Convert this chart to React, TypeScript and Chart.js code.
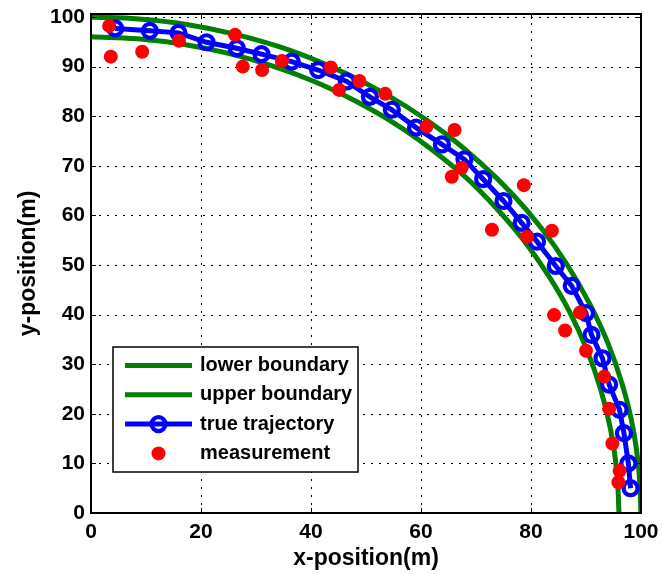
import React, { useEffect, useRef } from "react";
import { Chart, registerables } from "chart.js";

Chart.register(...registerables);

// ---- axis ticks ----
const X_TICKS = [0, 20, 40, 60, 80, 100];
const Y_TICKS = [0, 10, 20, 30, 40, 50, 60, 70, 80, 90, 100];
const X_MIN = 0;
const X_MAX = 100;
const Y_MIN = 0;
const Y_MAX = 100.6;

// ---- lower boundary (r ≈ 96) ----
const LOWER_X = [0, 8.4, 16.7, 24.8, 32.8, 40.6, 48.0, 55.1, 61.7, 67.9, 73.5, 78.6, 83.1, 87.0, 90.2, 92.7, 94.5, 95.6, 96.0];
const LOWER_Y = [96.0, 95.6, 94.5, 92.7, 90.2, 87.0, 83.1, 78.6, 73.5, 67.9, 61.7, 55.1, 48.0, 40.6, 32.8, 24.8, 16.7, 8.4, 0];

// ---- upper boundary (r ≈ 100) ----
const UPPER_X = [0, 8.7, 17.4, 25.9, 34.2, 42.3, 50.0, 57.4, 64.3, 70.7, 76.6, 81.9, 86.6, 90.6, 94.0, 96.6, 98.5, 99.6, 100.0];
const UPPER_Y = [100.0, 99.6, 98.5, 96.6, 94.0, 90.6, 86.6, 81.9, 76.6, 70.7, 64.3, 57.4, 50.0, 42.3, 34.2, 25.9, 17.4, 8.7, 0];

// ---- true trajectory ----
const TRUE_X = [4.4, 10.7, 15.9, 21.0, 26.5, 31.0, 36.5, 41.3, 46.5, 50.7, 54.7, 59.1, 63.8, 67.9, 71.3, 75.0, 78.3, 81.1, 84.5, 87.4, 90.0, 91.0, 93.0, 94.2, 96.1, 96.9, 97.7, 98.1];
const TRUE_Y = [97.7, 97.2, 96.8, 94.9, 93.7, 92.5, 91.0, 89.3, 87.0, 83.9, 81.3, 77.7, 74.3, 71.3, 67.3, 62.9, 58.5, 54.7, 49.8, 45.8, 40.3, 35.9, 31.2, 25.9, 20.8, 16.1, 10.0, 5.0];

// ---- measurements ----
const MEAS_X = [3.3, 3.6, 9.3, 16.0, 26.2, 27.6, 31.1, 34.7, 43.6, 45.1, 48.8, 53.5, 61.0, 66.1, 67.4, 65.6, 78.7, 72.9, 79.3, 83.8, 84.2, 88.9, 86.2, 90.0, 93.3, 94.2, 94.8, 96.1, 95.9];
const MEAS_Y = [98.2, 92.0, 93.0, 95.2, 96.4, 90.0, 89.3, 91.1, 89.8, 85.3, 87.1, 84.5, 77.9, 77.2, 69.6, 67.8, 66.1, 57.1, 55.7, 56.9, 39.9, 40.4, 36.8, 32.7, 27.5, 21.0, 14.0, 8.5, 6.2];

const SERIES_LABELS = ["lower boundary", "upper boundary", "true trajectory", "measurement"];

const FONT_FAMILY = "'Liberation Sans', Arial, Helvetica, sans-serif";
const GREEN = "#008000";
const BLUE = "#0000ff";
const RED = "#ff0000";

const pts = (xs: number[], ys: number[]) => xs.map((x, i) => ({ x, y: ys[i] }));

const framePlugin = {
  id: "matlabFrame",
  beforeDatasetsDraw(chart: any) {
    const { ctx, chartArea, scales } = chart;
    const { left, right, top, bottom } = chartArea;
    ctx.save();
    ctx.strokeStyle = "#000";
    ctx.lineWidth = 1;
    ctx.setLineDash([2, 6]);
    X_TICKS.forEach((v) => {
      if (v <= X_MIN || v >= X_MAX) return;
      const px = Math.round(scales.x.getPixelForValue(v)) + 0.5;
      ctx.beginPath();
      ctx.moveTo(px, bottom);
      ctx.lineTo(px, top);
      ctx.stroke();
    });
    Y_TICKS.forEach((v) => {
      if (v <= Y_MIN || v >= Y_MAX) return;
      const py = Math.round(scales.y.getPixelForValue(v)) + 0.5;
      ctx.beginPath();
      ctx.moveTo(left, py);
      ctx.lineTo(right, py);
      ctx.stroke();
    });
    ctx.restore();
  },
  afterDatasetsDraw(chart: any) {
    const { ctx, chartArea, scales } = chart;
    const { left, right, top, bottom } = chartArea;
    ctx.save();
    ctx.strokeStyle = "#000";
    ctx.setLineDash([]);
    ctx.lineWidth = 1;
    const tl = 5;
    X_TICKS.forEach((v) => {
      const px = Math.round(scales.x.getPixelForValue(v)) + 0.5;
      ctx.beginPath();
      ctx.moveTo(px, bottom);
      ctx.lineTo(px, bottom - tl);
      ctx.moveTo(px, top);
      ctx.lineTo(px, top + tl);
      ctx.stroke();
    });
    Y_TICKS.forEach((v) => {
      const py = Math.round(scales.y.getPixelForValue(v)) + 0.5;
      ctx.beginPath();
      ctx.moveTo(left, py);
      ctx.lineTo(left + tl, py);
      ctx.moveTo(right, py);
      ctx.lineTo(right - tl, py);
      ctx.stroke();
    });
    ctx.lineWidth = 2;
    ctx.strokeRect(left, top, right - left, bottom - top);
    ctx.restore();
  },
  afterDraw(chart: any) {
    const { ctx, chartArea } = chart;
    const L = chartArea.left + 22;
    const T = chartArea.top + 333;
    const W = 245;
    const H = 125;
    ctx.save();
    ctx.setLineDash([]);
    ctx.fillStyle = "#fff";
    ctx.fillRect(L, T, W, H);
    ctx.lineWidth = 1.5;
    ctx.strokeStyle = "#000";
    ctx.strokeRect(L, T, W, H);
    const datasets = chart.data.datasets;
    ctx.font = `bold 20px ${FONT_FAMILY}`;
    ctx.textBaseline = "middle";
    ctx.textAlign = "left";
    SERIES_LABELS.forEach((label, i) => {
      const ds = datasets.find((d: any) => d.label === label);
      const y = T + 18.5 + i * 29.3;
      const x0 = L + 12;
      const x1 = L + 79;
      const cx = (x0 + x1) / 2;
      if (ds.showLine !== false) {
        ctx.strokeStyle = ds.borderColor;
        ctx.lineWidth = ds.borderWidth;
        ctx.beginPath();
        ctx.moveTo(x0, y);
        ctx.lineTo(x1, y);
        ctx.stroke();
      }
      if (ds.pointRadius > 0) {
        ctx.beginPath();
        ctx.arc(cx, y, ds.pointRadius, 0, Math.PI * 2);
        if (ds.pointBorderWidth > 0) {
          ctx.strokeStyle = ds.pointBorderColor;
          ctx.lineWidth = ds.pointBorderWidth;
          ctx.stroke();
        } else {
          ctx.fillStyle = ds.pointBackgroundColor;
          ctx.fill();
        }
      }
      ctx.fillStyle = "#000";
      ctx.fillText(label, L + 87, y);
    });
    ctx.restore();
  },
};

export default function App() {
  const canvasRef = useRef<HTMLCanvasElement | null>(null);

  useEffect(() => {
    if (!canvasRef.current) return;
    const tickFont = { family: FONT_FAMILY, size: 21, weight: "bold" as const };
    const titleFont = { family: FONT_FAMILY, size: 23, weight: "bold" as const };
    const chart = new Chart(canvasRef.current, {
      type: "scatter",
      data: {
        datasets: [
          {
            label: SERIES_LABELS[0],
            data: pts(LOWER_X, LOWER_Y),
            showLine: true,
            borderColor: GREEN,
            backgroundColor: GREEN,
            borderWidth: 5,
            pointRadius: 0,
            pointBorderWidth: 0,
            tension: 0.4,
            clip: 0,
            order: 3,
          },
          {
            label: SERIES_LABELS[1],
            data: pts(UPPER_X, UPPER_Y),
            showLine: true,
            borderColor: GREEN,
            backgroundColor: GREEN,
            borderWidth: 5,
            pointRadius: 0,
            pointBorderWidth: 0,
            tension: 0.4,
            clip: 0,
            order: 2,
          },
          {
            label: SERIES_LABELS[2],
            data: pts(TRUE_X, TRUE_Y),
            showLine: true,
            borderColor: BLUE,
            backgroundColor: BLUE,
            borderWidth: 5,
            pointRadius: 7,
            pointBorderWidth: 4.2,
            pointBorderColor: BLUE,
            pointBackgroundColor: "rgba(0,0,0,0)",
            tension: 0,
            order: 1,
          },
          {
            label: SERIES_LABELS[3],
            data: pts(MEAS_X, MEAS_Y),
            showLine: false,
            borderColor: RED,
            backgroundColor: RED,
            pointRadius: 7,
            pointBorderWidth: 0,
            pointBackgroundColor: RED,
            order: 0,
          },
        ] as any,
      },
      options: {
        responsive: false,
        animation: false,
        events: [],
        layout: { padding: { top: 14, right: 21, left: 0, bottom: 0 } },
        plugins: {
          legend: { display: false },
          tooltip: { enabled: false },
        },
        scales: {
          x: {
            type: "linear",
            min: X_MIN,
            max: X_MAX,
            afterBuildTicks: (s: any) => {
              s.ticks = X_TICKS.map((v) => ({ value: v }));
            },
            afterFit: (s: any) => {
              s.height = 61;
              s.paddingLeft = 0;
              s.paddingRight = 0;
            },
            grid: { display: false, drawTicks: false },
            border: { display: false },
            ticks: {
              font: tickFont,
              color: "#000",
              padding: 7,
              maxRotation: 0,
              autoSkip: false,
            },
            title: {
              display: true,
              text: "x-position(m)",
              font: titleFont,
              color: "#000",
              padding: { top: 0, bottom: 2 },
            },
          },
          y: {
            type: "linear",
            min: Y_MIN,
            max: Y_MAX,
            afterBuildTicks: (s: any) => {
              s.ticks = Y_TICKS.map((v) => ({ value: v }));
            },
            afterFit: (s: any) => {
              s.width = 91;
              s.paddingTop = 0;
              s.paddingBottom = 0;
            },
            grid: { display: false, drawTicks: false },
            border: { display: false },
            ticks: {
              font: tickFont,
              color: "#000",
              padding: 6,
              autoSkip: false,
            },
            title: {
              display: true,
              text: "y-position(m)",
              font: titleFont,
              color: "#000",
              padding: { top: 15, bottom: 0 },
            },
          },
        },
      } as any,
      plugins: [framePlugin],
    });
    return () => chart.destroy();
  }, []);

  return (
    <div style={{ position: "absolute", left: 0, top: 0, width: 662, height: 574, background: "#fff" }}>
      <canvas ref={canvasRef} width={662} height={574} style={{ display: "block" }} />
    </div>
  );
}
